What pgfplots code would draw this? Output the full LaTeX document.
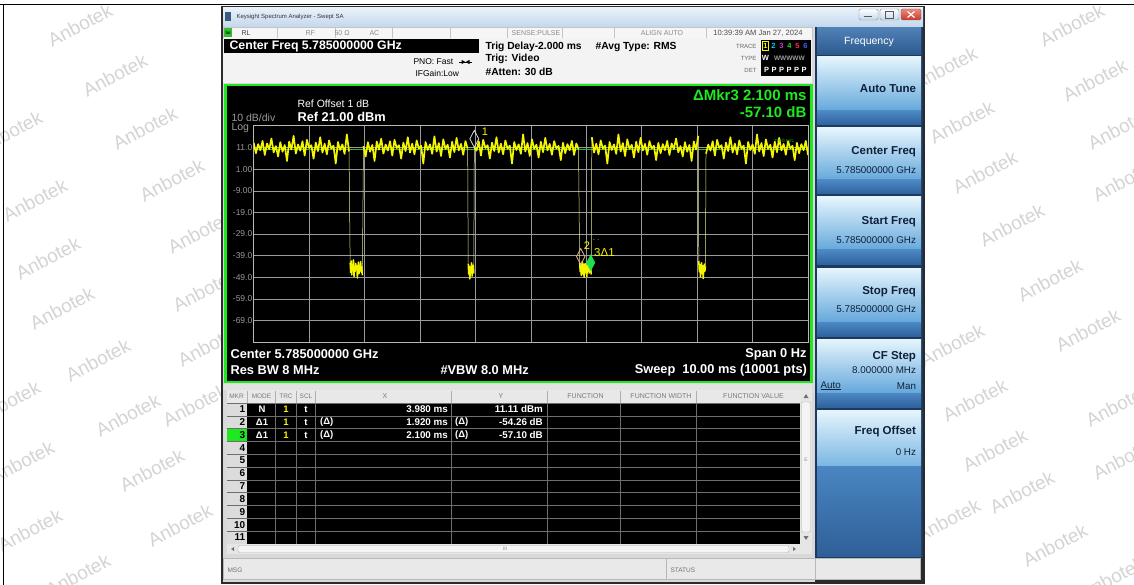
\documentclass[border=0pt]{standalone}
\usepackage{fontspec}
\setmainfont{Liberation Sans}
\usepackage{pgfplots}
\pgfplotsset{compat=1.18}
\newcommand{\fs}[1]{\fontsize{#1}{#1}\selectfont}
\definecolor{tyellow}{HTML}{F5F500}
\definecolor{tedge}{HTML}{E6E690}
\definecolor{ggreen}{HTML}{1EE81E}
\definecolor{gridc}{HTML}{9A9A9A}
\definecolor{borderc}{HTML}{B8B8B8}
\definecolor{ticklab}{HTML}{9A9A9A}
\definecolor{wm}{HTML}{D4D4D4}
\definecolor{winframe}{HTML}{2B2B2B}
\definecolor{titletop}{HTML}{EAF2FA}
\definecolor{titlebot}{HTML}{C3D7EC}
\definecolor{statusbg}{HTML}{F6F6F6}
\definecolor{statusline}{HTML}{C4C4C4}
\definecolor{statustxt}{HTML}{8A8A8A}
\definecolor{headbg}{HTML}{F3F3F3}
\definecolor{areabg}{HTML}{D9D9D9}
\definecolor{tblhead}{HTML}{E8E8E8}
\definecolor{tblline}{HTML}{6E6E6E}
\definecolor{tblheadtxt}{HTML}{7A7A7A}
\definecolor{panelbg}{HTML}{1C3A5E}
\definecolor{freqtop}{HTML}{4F80B6}
\definecolor{freqbot}{HTML}{2C5A8E}
\definecolor{btntop}{HTML}{E6F5FD}
\definecolor{btnmid}{HTML}{A2D2EF}
\definecolor{btnbot}{HTML}{64A8DB}
\definecolor{bandtop}{HTML}{4C88C4}
\definecolor{bandbot}{HTML}{2F629E}
\definecolor{emptytop}{HTML}{4A86C2}
\definecolor{emptybot}{HTML}{2F5F98}
\definecolor{mkrone}{HTML}{D8D8D8}
\definecolor{mkrtwo}{HTML}{E2B48A}
\definecolor{mkrthree}{HTML}{1FE04A}
\definecolor{trcyan}{HTML}{00CFFF}
\definecolor{trmag}{HTML}{C040C0}
\definecolor{trgreen}{HTML}{30D030}
\definecolor{trred}{HTML}{FF3050}
\definecolor{trblue}{HTML}{4060FF}
\definecolor{iconc}{HTML}{3A5A80}
\definecolor{closetop}{HTML}{F08878}
\definecolor{closebot}{HTML}{C8382A}
\definecolor{lxigreen}{HTML}{30C030}
\definecolor{trigc}{HTML}{28B828}
\definecolor{stripc}{HTML}{E2E2E2}
\definecolor{hdiv}{HTML}{B0B0B0}
\definecolor{mkrcol}{HTML}{DCDCDC}
\definecolor{sbbg}{HTML}{E6E6E6}
\definecolor{sbthumb}{HTML}{F4F4F4}
\definecolor{sbborder}{HTML}{B4B4B4}
\definecolor{msgbg}{HTML}{E9E9E9}
\definecolor{msgline}{HTML}{B8B8B8}
\definecolor{btnsixbot}{HTML}{7AB6E2}
\definecolor{btntext}{HTML}{10203A}
\newcommand{\btn}[2]{%
  \shade[top color=btntop, middle color=btnmid, bottom color=btnbot] (817,-#1) rectangle (921,{-(#2-14)});
  \shade[top color=bandtop, bottom color=bandbot] (817,{-(#2-14)}) rectangle (921,-#2);
}
\pgfplotsset{seg/.style={draw=tyellow, line width=1.7pt, line join=round},
  dip/.style={draw=tyellow, line width=1.5pt, line join=round}}
\begin{document}
\begin{tikzpicture}[x=1pt,y=1pt]
\useasboundingbox (0,0) rectangle (1134,-585);
\clip (0,0) rectangle (1134,-585);
\fill[white] (0,0) rectangle (1134,-585);
% watermarks
\foreach \wx/\wy in {80/25,115/75,145/128,172/180,200/232,10/132,35/200,48/258,62/308,98/360,128/415,152/470,180/525,8/402,22/462,30/530,78/575,205/290,210/345,195/405,
1072/25,1095/80,962/122,1120/128,985/172,1125/180,1012/225,1050/280,1088/330,952/345,975/400,1118/405,995/450,1125/458,1022/492,1055/545,945/68,948/520,1112/578}
  \node[rotate=28, text=wm, font=\fs{19}] at (\wx,-\wy) {Anbotek};
\draw[black, line width=0.8] (0,-4.5) -- (1134,-4.5);
\draw[black, line width=0.8] (3.5,-4.5) -- (3.5,-585);
% window
\fill[winframe] (221,-6) rectangle (925,-584);
\shade[top color=titletop, bottom color=titlebot] (223,-7.5) rectangle (923,-27);
\fill[iconc] (225,-12) rectangle (231,-21);
\node[anchor=west, font=\fs{6}, text=black!80] at (233,-16.5) {Keysight Spectrum Analyzer - Swept SA};
\shade[top color=white, bottom color=titlebot, draw=black!45, rounded corners=1.5] (859,-9) rectangle (878,-20);
\shade[top color=white, bottom color=titlebot, draw=black!45, rounded corners=1.5] (880,-9) rectangle (899,-20);
\shade[top color=closetop, bottom color=closebot, draw=black!60, rounded corners=1.5] (901,-9) rectangle (921,-20);
\draw[black!65, line width=1] (864,-17) -- (872,-17);
\draw[black!65, line width=0.7] (885,-11.5) rectangle (893,-18);
\draw[white, line width=1.2] (907.5,-11.5) -- (914.5,-17.5) (907.5,-17.5) -- (914.5,-11.5);
% left content
\fill[areabg] (223,-27) rectangle (815,-582);
\fill[statusbg] (223,-27.5) rectangle (812,-38);
\draw[statusline] (223,-27.5) rectangle (812,-38);
\foreach \sx in {277,335,392,450,507,562,614,706} \draw[statusline] (\sx,-27.5) -- (\sx,-38);
\fill[lxigreen] (224,-28.5) rectangle (232,-37.5);
\node[font=\fs{4.5}\bfseries] at (228,-33) {lxi};
\node[anchor=west, font=\fs{7}, text=black!75] at (238,-33) {RL};
\node[anchor=west, font=\fs{7}, text=statustxt] at (302,-33) {RF};
\node[anchor=west, font=\fs{7}, text=statustxt] at (331,-33) {50 Ω};
\node[anchor=west, font=\fs{7}, text=statustxt] at (366,-33) {AC};
\node[font=\fs{7}, text=statustxt] at (536,-33) {SENSE:PULSE};
\node[font=\fs{7}, text=statustxt] at (662,-33) {ALIGN AUTO};
\node[font=\fs{7.6}, text=black!70] at (758,-33) {10:39:39 AM Jan 27, 2024};
% header
\fill[headbg] (223,-38) rectangle (812,-83);
\fill[black] (224,-39) rectangle (479,-53.5);
\node[anchor=west, font=\fs{12.3}\bfseries, text=white] at (226,-46.3) {Center Freq 5.785000000 GHz};
\node[anchor=west, font=\fs{8.5}] at (410,-62) {PNO: Fast};
\node[anchor=west, font=\fs{8.5}] at (412,-73) {IFGain:Low};
\draw[black, line width=0.5] (459,-62) -- (472,-62);
\fill (461.5,-59.8) -- (465.3,-62) -- (461.5,-64.2) -- cycle;
\fill (469.5,-59.8) -- (465.7,-62) -- (469.5,-64.2) -- cycle;
\node[anchor=west, font=\fs{10.3}\bfseries] at (482,-46.7) {Trig Delay-2.000 ms};
\node[anchor=west, font=\fs{10.3}\bfseries] at (482,-59.3) {Trig: Video};
\node[anchor=west, font=\fs{10.3}\bfseries] at (482,-71.7) {\#Atten: 30 dB};
\node[anchor=west, font=\fs{10.3}\bfseries] at (592,-46.7) {\#Avg Type: RMS};
\node[anchor=east, font=\fs{6}, text=black!60] at (760,-46) {TRACE};
\node[anchor=east, font=\fs{6}, text=black!60] at (760,-58) {TYPE};
\node[anchor=east, font=\fs{6}, text=black!60] at (760,-70) {DET};
\fill[black] (761,-40.5) rectangle (811,-76);
\draw[tyellow, line width=0.6] (762.3,-41.8) rectangle (768.5,-50.3);
\node[font=\fs{7.5}\bfseries, text=tyellow, inner sep=0pt] at (765.4,-46) {1};
\node[font=\fs{7.5}\bfseries, text=trcyan, inner sep=0pt] at (773.4,-46) {2};
\node[font=\fs{7.5}\bfseries, text=trmag, inner sep=0pt] at (781.4,-46) {3};
\node[font=\fs{7.5}\bfseries, text=trgreen, inner sep=0pt] at (789.4,-46) {4};
\node[font=\fs{7.5}\bfseries, text=trred, inner sep=0pt] at (797.4,-46) {5};
\node[font=\fs{7.5}\bfseries, text=trblue, inner sep=0pt] at (805.4,-46) {6};
\node[font=\fs{7.5}\bfseries, text=white, inner sep=0pt] at (765.4,-58) {W};
\node[font=\fs{6.5}\bfseries, text=white!60!black, inner sep=0pt] at (789.4,-58) {WWWWW};
\node[font=\fs{7.5}\bfseries, text=white, inner sep=0pt] at (785.4,-70) {P\,\,P\,\,P\,\,P\,\,P\,\,P};
% graph frame
\fill[black] (225.5,-85) rectangle (811.5,-382);
\draw[ggreen, line width=2.5] (225.5,-85) rectangle (811.5,-382);
\node[anchor=west, font=\fs{10.5}, text=white] at (294,-103.3) {Ref Offset 1 dB};
\node[anchor=west, font=\fs{12.8}\bfseries, text=white] at (294,-116.7) {Ref 21.00 dBm};
\node[anchor=west, font=\fs{10.5}, text=ticklab] at (228,-117.3) {10 dB/div};
\node[anchor=west, font=\fs{10.5}, text=ticklab] at (228,-128.3) {Log};
\node[anchor=east, font=\fs{15}\bfseries, text=ggreen] at (810,-95) {ΔMkr3 2.100 ms};
\node[anchor=east, font=\fs{15}\bfseries, text=ggreen] at (810,-111.7) {-57.10 dB};
\node[anchor=west, font=\fs{12.8}\bfseries, text=white] at (227,-354) {Center 5.785000000 GHz};
\node[anchor=west, font=\fs{12.8}\bfseries, text=white] at (227,-370) {Res BW 8 MHz};
\node[anchor=west, font=\fs{12.8}\bfseries, text=white] at (437,-370) {\#VBW 8.0 MHz};
\node[anchor=east, font=\fs{12.8}\bfseries, text=white] at (810,-354) {Span 0 Hz};
\node[anchor=east, font=\fs{12.8}\bfseries, text=white] at (810.5,-370) {Sweep\ \ 10.00 ms (10001 pts)};
\begin{axis}[
  at={(253.7pt,-342pt)}, anchor=south west,
  scale only axis, width=554.3pt, height=216pt,
  xmin=0, xmax=10, ymin=-79, ymax=21,
  xtick=\empty,
  ytick={-69,-59,-49,-39,-29,-19,-9,1,11},
  yticklabels={-69.0,-59.0,-49.0,-39.0,-29.0,-19.0,-9.00,1.00,11.0},
  ymajorgrids=true, major grid style={draw=gridc, line width=0.55pt},
  axis line style={draw=borderc, line width=1pt},
  major tick length=0pt, tick style={draw=none},
  yticklabel style={font=\fs{8.5}, text=ticklab, inner sep=1.2pt},
  /pgf/number format/assume math mode=true,
  axis background/.style={fill=black},
  clip=true,
]
% vertical grid lines
\addplot[draw=gridc, line width=0.55pt, unbounded coords=jump] coordinates {
(1,-79) (1,21) (nan,nan) (2,-79) (2,21) (nan,nan) (3,-79) (3,21) (nan,nan)
(4,-79) (4,21) (nan,nan) (5,-79) (5,21) (nan,nan) (6,-79) (6,21) (nan,nan)
(7,-79) (7,21) (nan,nan) (8,-79) (8,21) (nan,nan) (9,-79) (9,21)};
% trigger level
\addplot[draw=trigc, line width=0.6pt] coordinates {(0,10.4) (10,10.4)};
% edges (fall / rise)
\addplot[draw=tedge, line width=0.5pt, unbounded coords=jump] coordinates {
(1.72,9.2) (1.74,-42.3) (nan,nan) (1.96,-48.1) (1.98,11.7) (nan,nan)
(3.86,10.6) (3.87,-42.8) (nan,nan) (3.97,-47.2) (3.98,11.11) (nan,nan)
(5.86,10.3) (5.88,-42.1) (nan,nan) (6.09,-47.7) (6.10,15.8) (nan,nan)
(8.02,16.4) (8.03,-41.6) (nan,nan) (8.15,-44.0) (8.16,8.2)};
% segment A
\addplot[seg] coordinates {
(0.00,13.2) (0.04,8.4) (0.08,12.6) (0.12,9.8) (0.16,14.1) (0.20,7.6) (0.24,12.9) (0.28,10.3) (0.32,15.2) (0.36,8.8)
(0.40,11.7) (0.44,6.9) (0.48,13.5) (0.52,9.1) (0.56,12.2) (0.60,4.8) (0.64,13.8) (0.68,10.1) (0.72,16.4) (0.76,8.2)
(0.80,12.4) (0.84,9.6) (0.88,13.9) (0.92,7.3) (0.96,14.6) (1.00,10.8) (1.04,12.1) (1.08,5.9) (1.12,13.3) (1.16,9.4)
(1.20,15.8) (1.24,8.7) (1.28,12.8) (1.32,7.9) (1.36,14.3) (1.40,10.5) (1.44,11.9) (1.48,3.6) (1.52,13.6) (1.56,9.9)
(1.60,12.5) (1.64,8.1) (1.68,17.1) (1.72,9.2)};
% dip 1
\addplot[dip] coordinates {
(1.74,-42.3) (1.75,-46.8) (1.76,-41.5) (1.77,-47.9) (1.78,-43.2) (1.79,-45.6) (1.80,-41.0) (1.81,-48.7) (1.82,-44.1) (1.83,-46.3)
(1.84,-42.6) (1.85,-45.2) (1.86,-43.8) (1.87,-49.4) (1.88,-44.7) (1.89,-42.0) (1.90,-47.3) (1.91,-43.5) (1.92,-45.9) (1.93,-41.8)
(1.94,-46.6) (1.95,-44.2) (1.96,-48.1)};
% segment B
\addplot[seg] coordinates {
(1.98,11.7) (2.02,6.9) (2.06,13.5) (2.10,9.1) (2.14,12.2) (2.18,4.8) (2.22,13.8) (2.26,10.1) (2.30,15.1) (2.34,8.2)
(2.38,12.4) (2.42,9.6) (2.46,13.9) (2.50,7.3) (2.54,14.6) (2.58,10.8) (2.62,12.1) (2.66,5.9) (2.70,13.3) (2.74,9.4)
(2.78,15.8) (2.82,8.7) (2.86,12.8) (2.90,7.9) (2.94,14.3) (2.98,10.5) (3.02,11.9) (3.06,3.6) (3.10,13.6) (3.14,9.9)
(3.18,12.5) (3.22,8.1) (3.26,16.2) (3.30,9.2) (3.34,13.1) (3.38,7.1) (3.42,14.8) (3.46,10.4) (3.50,12.3) (3.54,6.4)
(3.58,13.7) (3.62,8.9) (3.66,15.5) (3.70,9.7) (3.74,12.7) (3.78,7.7) (3.82,14.0) (3.86,10.6)};
% dip 2
\addplot[dip] coordinates {
(3.87,-42.8) (3.88,-47.6) (3.89,-43.9) (3.90,-49.8) (3.91,-44.3) (3.92,-46.9) (3.93,-42.4) (3.94,-48.5) (3.95,-45.1) (3.96,-43.4) (3.97,-47.2)};
% segment C
\addplot[seg] coordinates {
(3.98,11.11) (4.02,9.6) (4.06,13.9) (4.10,7.3) (4.14,14.6) (4.18,10.8) (4.22,12.1) (4.26,5.9) (4.30,13.3) (4.34,9.4)
(4.38,15.8) (4.42,8.7) (4.46,12.8) (4.50,7.9) (4.54,14.3) (4.58,10.5) (4.62,11.9) (4.66,3.6) (4.70,13.6) (4.74,9.9)
(4.78,12.5) (4.82,8.1) (4.86,17.1) (4.90,9.2) (4.94,13.1) (4.98,7.1) (5.02,14.8) (5.06,10.4) (5.10,12.3) (5.14,6.4)
(5.18,13.7) (5.22,8.9) (5.26,15.5) (5.30,9.7) (5.34,12.7) (5.38,7.7) (5.42,14.0) (5.46,10.6) (5.50,11.8) (5.54,5.2)
(5.58,13.2) (5.62,8.4) (5.66,12.6) (5.70,9.8) (5.74,14.1) (5.78,7.6) (5.82,12.9) (5.86,10.3)};
% dip 3
\addplot[dip] coordinates {
(5.88,-42.1) (5.89,-46.4) (5.90,-43.15) (5.91,-48.2) (5.92,-44.6) (5.93,-41.7) (5.94,-47.5) (5.95,-43.0) (5.96,-49.1) (5.97,-45.3)
(5.98,-42.7) (5.99,-46.9) (6.00,-44.0) (6.01,-48.8) (6.02,-43.3) (6.03,-45.7) (6.04,-41.9) (6.05,-47.1) (6.06,-44.4) (6.07,-42.5)
(6.08,-45.99) (6.09,-47.7)};
% segment D
\addplot[seg] coordinates {
(6.10,15.8) (6.14,8.7) (6.18,12.8) (6.22,7.9) (6.26,14.3) (6.30,10.5) (6.34,11.9) (6.38,3.6) (6.42,13.6) (6.46,9.9)
(6.50,12.5) (6.54,8.1) (6.58,17.1) (6.62,9.2) (6.66,13.1) (6.70,7.1) (6.74,14.8) (6.78,10.4) (6.82,12.3) (6.86,6.4)
(6.90,13.7) (6.94,8.9) (6.98,15.5) (7.02,9.7) (7.06,12.7) (7.10,7.7) (7.14,14.0) (7.18,10.6) (7.22,11.8) (7.26,5.2)
(7.30,13.2) (7.34,8.4) (7.38,12.6) (7.42,9.8) (7.46,14.1) (7.50,7.6) (7.54,12.9) (7.58,10.3) (7.62,15.2) (7.66,8.8)
(7.70,11.7) (7.74,6.9) (7.78,13.5) (7.82,9.1) (7.86,12.2) (7.90,4.8) (7.94,13.8) (7.98,10.1) (8.02,16.4)};
% dip 4
\addplot[dip] coordinates {
(8.03,-41.6) (8.04,-46.5) (8.05,-43.1) (8.06,-48.9) (8.07,-44.2) (8.08,-42.3) (8.09,-47.4) (8.10,-43.7) (8.11,-49.6) (8.12,-44.8)
(8.13,-42.9) (8.14,-46.2) (8.15,-44.0)};
% segment E
\addplot[seg] coordinates {
(8.16,8.2) (8.20,12.4) (8.24,9.6) (8.28,13.9) (8.32,7.3) (8.36,14.6) (8.40,10.8) (8.44,12.1) (8.48,5.9) (8.52,13.3)
(8.56,9.4) (8.60,15.8) (8.64,8.7) (8.68,12.8) (8.72,7.9) (8.76,14.3) (8.80,10.5) (8.84,11.9) (8.88,3.6) (8.92,13.6)
(8.96,9.9) (9.00,12.5) (9.04,8.1) (9.08,17.1) (9.12,9.2) (9.16,13.1) (9.20,7.1) (9.24,14.8) (9.28,10.4) (9.32,12.3)
(9.36,6.4) (9.40,13.7) (9.44,8.9) (9.48,15.5) (9.52,9.7) (9.56,12.7) (9.60,7.7) (9.64,14.0) (9.68,10.6) (9.72,11.8)
(9.76,5.2) (9.80,13.2) (9.84,8.4) (9.88,12.6) (9.92,9.8) (9.96,14.1) (10.00,7.6)};
% markers
\addplot[only marks, mark=diamond, mark size=8.5pt, mark options={draw=mkrone, line width=0.8pt, xscale=0.7, yshift=8.5pt}] coordinates {(3.98,11.11)};
\addplot[only marks, mark=diamond, mark size=8pt, mark options={draw=mkrtwo, line width=0.8pt, xscale=0.7, yshift=8pt}] coordinates {(5.90,-43.15)};
\addplot[only marks, mark=diamond*, mark size=8pt, mark options={draw=mkrthree, fill=mkrthree, xscale=0.7, yshift=8pt}] coordinates {(6.08,-45.99)};
\node[font=\fs{11}, text=tyellow, inner sep=0pt] at (axis cs:4.17,18.2) {1};
\node[font=\fs{11}, text=tyellow, inner sep=0pt] at (axis cs:6.01,-34.2) {2};
\node[font=\fs{7}, text=tyellow, inner sep=0pt] at (axis cs:6.18,-32.0) {.\,\,.};
\node[anchor=west, font=\fs{11.5}, text=tyellow, inner sep=0pt] at (axis cs:6.14,-37.6) {3Δ1};
\node[font=\fs{4.5}, text=trigc, inner sep=0pt] at (axis cs:9.57,14.2) {TRIG LVL};
\end{axis}
% marker table
\fill[stripc] (223,-383.5) rectangle (812,-390);
\fill[tblhead] (227,-390) rectangle (800,-403);
\foreach \hx in {247,275.5,296.5,315,451.5,547,620,696.5} \draw[hdiv] (\hx,-391) -- (\hx,-403);
\node[font=\fs{6.5}, text=tblheadtxt, inner sep=0pt] at (236.5,-396.5) {MKR};
\node[font=\fs{6.5}, text=tblheadtxt, inner sep=0pt] at (261.5,-396.5) {MODE};
\node[font=\fs{6.5}, text=tblheadtxt, inner sep=0pt] at (286,-396.5) {TRC};
\node[font=\fs{6.5}, text=tblheadtxt, inner sep=0pt] at (306,-396.5) {SCL};
\node[font=\fs{7}, text=tblheadtxt] at (385,-396.5) {X};
\node[font=\fs{7}, text=tblheadtxt] at (501,-396.5) {Y};
\node[font=\fs{7}, text=tblheadtxt] at (585.5,-396.5) {FUNCTION};
\node[font=\fs{7}, text=tblheadtxt] at (661,-396.5) {FUNCTION WIDTH};
\node[font=\fs{7}, text=tblheadtxt] at (753.5,-396.5) {FUNCTION VALUE};
\fill[black] (247,-403) rectangle (800,-544);
\fill[mkrcol] (227,-403) rectangle (247,-544);
\fill[ggreen] (227,-428.6) rectangle (247,-441.4);
\foreach \ri in {0,...,11} \draw[tblline, line width=0.5] (227,{-403-12.8*\ri}) -- (800,{-403-12.8*\ri});
\foreach \cx in {275.5,296.5,315,451.5,547,620,696.5} \draw[tblline, line width=0.5] (\cx,-403) -- (\cx,-544);
\foreach \ri in {1,...,11} \node[anchor=east, font=\fs{10}\bfseries, inner sep=0pt] at (245.5,{-409.4-12.8*(\ri-1)}) {\ri};
\node[font=\fs{9.5}\bfseries, text=white, inner sep=0pt] at (262,-409.4) {N};
\node[font=\fs{9.5}\bfseries, text=tyellow, inner sep=0pt] at (286,-409.4) {1};
\node[font=\fs{9.5}\bfseries, text=white, inner sep=0pt] at (306,-409.4) {t};
\node[anchor=east, font=\fs{9.8}\bfseries, text=white, inner sep=0pt] at (448,-409.4) {3.980 ms};
\node[anchor=east, font=\fs{9.8}\bfseries, text=white, inner sep=0pt] at (543,-409.4) {11.11 dBm};
\foreach \ry/\xv/\yv in {422.2/1.920/-54.26, 435.0/2.100/-57.10} {
  \node[font=\fs{9.5}\bfseries, text=white, inner sep=0pt] at (262,-\ry) {Δ1};
  \node[font=\fs{9.5}\bfseries, text=tyellow, inner sep=0pt] at (286,-\ry) {1};
  \node[font=\fs{9.5}\bfseries, text=white, inner sep=0pt] at (306,-\ry) {t};
  \node[anchor=west, font=\fs{9.5}\bfseries, text=white, inner sep=0pt] at (320,-\ry) {(Δ)};
  \node[anchor=east, font=\fs{9.8}\bfseries, text=white, inner sep=0pt] at (448,-\ry) {\xv\ ms};
  \node[anchor=west, font=\fs{9.5}\bfseries, text=white, inner sep=0pt] at (455,-\ry) {(Δ)};
  \node[anchor=east, font=\fs{9.8}\bfseries, text=white, inner sep=0pt] at (543,-\ry) {\yv\ dB};
}
% scrollbars
\fill[sbbg] (227,-544) rectangle (800,-554);
\fill[sbthumb, draw=sbborder, rounded corners=2] (238,-545.5) rectangle (789,-552.5);
\node[font=\fs{5}, text=black!50, inner sep=0pt] at (505,-549) {III};
\fill[black!55] (231,-549) -- (234,-547) -- (234,-551) -- cycle;
\fill[black!55] (796,-549) -- (793,-547) -- (793,-551) -- cycle;
\fill[sbbg] (800,-390) rectangle (812,-554);
\fill[sbthumb, draw=sbborder, rounded corners=2] (801.5,-402) rectangle (810.5,-532);
\fill[black!55] (806,-394) -- (808.5,-398) -- (803.5,-398) -- cycle;
\fill[black!55] (806,-540) -- (808.5,-536) -- (803.5,-536) -- cycle;
\node[font=\fs{5}, text=black!45, inner sep=0pt] at (806,-460) {E};
% msg bar
\fill[msgbg] (223,-558) rectangle (921,-580);
\draw[msgline] (223.5,-558.5) rectangle (920.5,-579.5);
\draw[msgline] (666,-558.5) -- (666,-579.5);
\draw[msgline] (815,-558.5) -- (815,-579.5);
\node[anchor=west, font=\fs{6.5}, text=black!55] at (224,-570) {MSG};
\node[anchor=west, font=\fs{6.5}, text=black!55] at (667,-570) {STATUS};
% right panel
\fill[panelbg] (815,-27) rectangle (923,-558);
\shade[top color=freqtop, bottom color=freqbot] (817,-28) rectangle (921,-55);
\node[font=\fs{10.5}, text=white] at (869,-41.5) {Frequency};
\btn{57}{125}
\btn{128}{194}
\btn{197}{264}
\btn{268}{336}
\btn{339}{407}
\shade[top color=btntop, middle color=btnmid, bottom color=btnsixbot] (817,-410) rectangle (921,-466);
\shade[top color=emptytop, bottom color=emptybot] (817,-466) rectangle (921,-556);
\node[anchor=east, font=\fs{11.5}\bfseries, text=btntext] at (919.5,-88.3) {Auto Tune};
\node[anchor=east, font=\fs{11.5}\bfseries, text=btntext] at (919.5,-151.7) {Center Freq};
\node[anchor=east, font=\fs{9.8}, text=btntext] at (919.5,-170) {5.785000000 GHz};
\node[anchor=east, font=\fs{11.5}\bfseries, text=btntext] at (919.5,-221.7) {Start Freq};
\node[anchor=east, font=\fs{9.8}, text=btntext] at (919.5,-240) {5.785000000 GHz};
\node[anchor=east, font=\fs{11.5}\bfseries, text=btntext] at (919.5,-291.5) {Stop Freq};
\node[anchor=east, font=\fs{9.8}, text=btntext] at (919.5,-309.3) {5.785000000 GHz};
\node[anchor=east, font=\fs{11.5}\bfseries, text=btntext] at (919.5,-356.7) {CF Step};
\node[anchor=east, font=\fs{9.8}, text=btntext] at (919.5,-370) {8.000000 MHz};
\node[anchor=west, font=\fs{9.8}, text=btntext] at (817,-385.7) {\underline{Auto}};
\node[anchor=east, font=\fs{9.8}, text=btntext] at (919.5,-385.7) {Man};
\node[anchor=east, font=\fs{11.5}\bfseries, text=btntext] at (919.5,-431.7) {Freq Offset};
\node[anchor=east, font=\fs{9.8}, text=btntext] at (919.5,-451.7) {0 Hz};
\end{tikzpicture}
\end{document}
